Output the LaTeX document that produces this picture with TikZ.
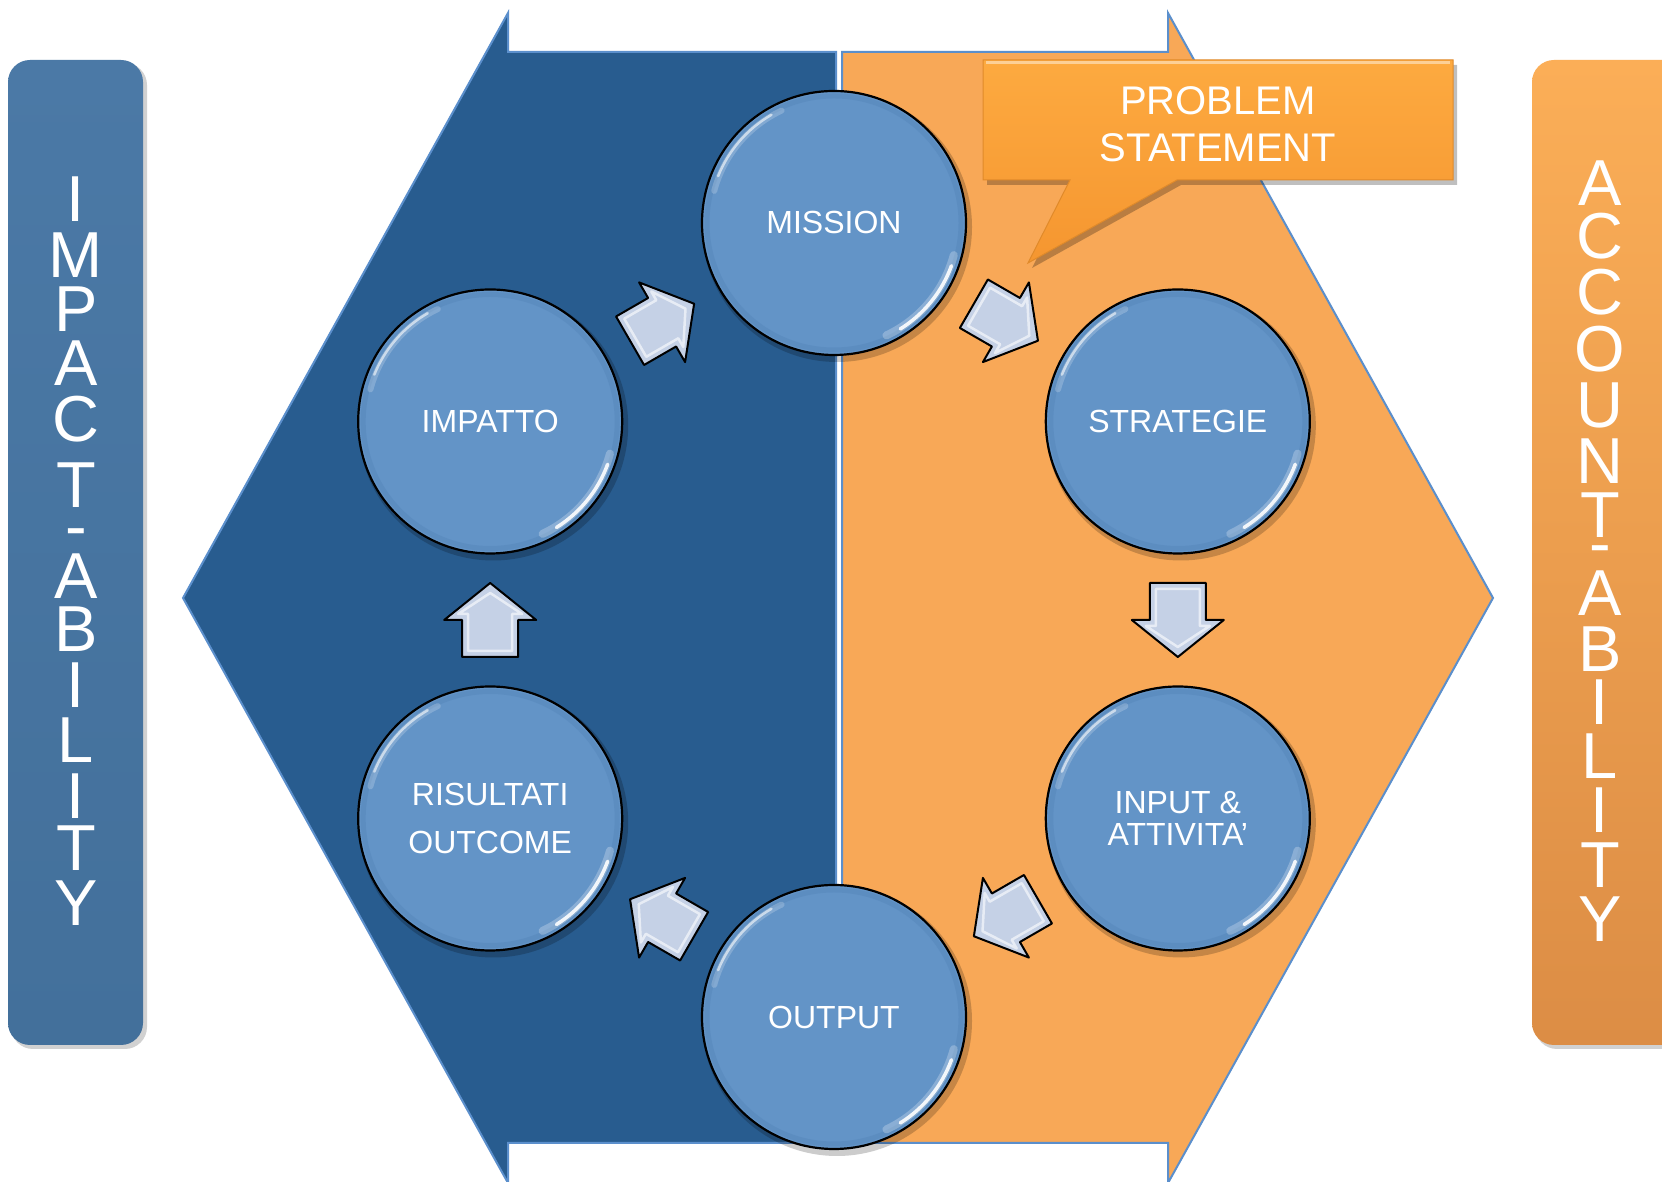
\documentclass[tikz,border=0pt]{standalone}
\usepackage{fontspec}
\setmainfont{Liberation Sans}
\usetikzlibrary{calc}
\definecolor{hexblue}{HTML}{285C8F}
\definecolor{hexorange}{HTML}{F8A857}
\definecolor{hexline}{HTML}{5B8FCC}
\definecolor{circblue}{HTML}{6394C7}
\definecolor{circrim}{HTML}{4A79AF}
\definecolor{arrfill}{HTML}{C5D1E6}
\definecolor{barbluetop}{HTML}{4B79A6}
\definecolor{barbluebot}{HTML}{43709B}
\definecolor{barorangetop}{HTML}{FBAE57}
\definecolor{barorangebot}{HTML}{DC8D45}
\definecolor{calltop}{HTML}{FDAA40}
\definecolor{callbot}{HTML}{F59630}
\definecolor{callline}{HTML}{E08A2A}
\begin{document}
\begin{tikzpicture}[x=1pt,y=1pt,
  stage/.style={circle, minimum size=264pt, inner sep=0pt, fill=circblue,
    draw=black, line width=2.2pt, text=white, align=center,
    font=\fontsize{32}{38}\selectfont},
  widelines/.style={font=\fontsize{32}{48}\selectfont},
  tightlines/.style={font=\fontsize{32}{32}\selectfont},
  sideword/.style={text=white, anchor=north, inner sep=0pt, align=center,
    font=\fontsize{65}{55}\selectfont},
  calltext/.style={text=white, align=center, font=\fontsize{40}{47}\selectfont},
  barrow/.pic={
    \fill[arrfill] (-37,-28) -- (0,-28) -- (0,-46) -- (37,0) -- (0,46) -- (0,28) -- (-37,28) -- cycle;
    \draw[white, line width=2.5pt, opacity=.6, line join=round]
      (-31,-22) -- (6,-22) -- (6,-32) -- (27,0) -- (6,32) -- (6,22) -- (-31,22) -- cycle;
    \draw[black, line width=2pt, line join=round]
      (-37,-28) -- (0,-28) -- (0,-46) -- (37,0) -- (0,46) -- (0,28) -- (-37,28) -- cycle;
  }
]
\useasboundingbox (0,0) rectangle (1662,1182);
\fill[white] (0,0) rectangle (1662,1182);

% side bars
\fill[black, opacity=.18, rounded corners=22pt] (11,133) rectangle (147,1119);
\shade[top color=barbluetop, bottom color=barbluebot, rounded corners=22pt] (8,137) rectangle (143,1122);
\fill[black, opacity=.18, rounded corners=22pt] (1535,133) rectangle (1705,1119);
\shade[top color=barorangetop, bottom color=barorangebot, rounded corners=22pt] (1532,137) rectangle (1700,1122);

% hexagon halves
\fill[hexblue, draw=hexline, line width=2pt, line join=miter]
  (508,1169) -- (508,1130) -- (836,1130) -- (836,39) -- (508,39) -- (508,-1) -- (183,584) -- cycle;
\fill[hexorange, draw=hexline, line width=2pt, line join=miter]
  (1168,1169) -- (1493,584) -- (1168,-1) -- (1168,39) -- (842,39) -- (842,1130) -- (1168,1130) -- cycle;

% callout
\fill[black, opacity=.25] (987,1117) -- (1457,1117) -- (1457,997) -- (1181,997) -- (1032,914) -- (1074,997) -- (987,997) -- cycle;
\shade[top color=calltop, bottom color=callbot, draw=callline, line width=1pt]
  (983,1122) -- (1453,1122) -- (1453,1002) -- (1177,1002) -- (1028,919) -- (1070,1002) -- (983,1002) -- cycle;
\draw[white, opacity=.45, line width=3pt] (986,1119) -- (1450,1119);
\node[calltext] (ps) at (1218,1058) {PROBLEM\\STATEMENT};

% stages
\coordinate (hc) at (834,562);
\foreach \ang in {90,150,30,-150,-30,-90}{
  \fill[black, opacity=.2] ($(hc)+(\ang:397)+(3,-4)$) circle[radius=135];
}
\node[stage] (mis) at ($(hc)+(90:397)$) {MISSION};
\node[stage] (str) at ($(hc)+(30:397)$) {STRATEGIE};
\node[stage, tightlines] (inp) at ($(hc)+(-30:397)$) {INPUT \&\\ATTIVITA’};
\node[stage] (out) at ($(hc)+(-90:397)$) {OUTPUT};
\node[stage, widelines] (ris) at ($(hc)+(-150:397)$) {RISULTATI\\OUTCOME};
\node[stage] (imp) at ($(hc)+(150:397)$) {IMPATTO};
\foreach \c in {mis,str,inp,out,ris,imp}{
  \draw[circrim, line width=5pt, opacity=.25] (\c.center) circle[radius=127];
  \draw[white, line width=8pt, opacity=.25, line cap=round] ($(\c.center)+(-15:124)$) arc[start angle=-15, end angle=-65, radius=124];
  \draw[white, line width=3.5pt, opacity=.9, line cap=round] ($(\c.center)+(-20:125)$) arc[start angle=-20, end angle=-58, radius=125];
  \draw[white, line width=6pt, opacity=.2, line cap=round] ($(\c.center)+(115:124)$) arc[start angle=115, end angle=165, radius=124];
  \draw[white, line width=2.5pt, opacity=.6, line cap=round] ($(\c.center)+(120:125)$) arc[start angle=120, end angle=158, radius=125];
}

% cycle arrows
\pic[rotate=-30] at ($(mis)!.5!(str)$) {barrow};
\pic[rotate=-90] at ($(str)!.5!(inp)$) {barrow};
\pic[rotate=-150] at ($(inp)!.5!(out)$) {barrow};
\pic[rotate=150] at ($(out)!.5!(ris)$) {barrow};
\pic[rotate=90] at ($(ris)!.5!(imp)$) {barrow};
\pic[rotate=30] at ($(imp)!.5!(mis)$) {barrow};

% vertical words
\node[sideword] (leftword) at (76,1005)
  {I\\[1pt]M\\[-1pt]P\\[-1pt]A\\[1pt]C\\[11pt]T\\[-14pt]-\\[-5pt]A\\[-2pt]B\\[1pt]I\\L\\[1pt]I\\[-3pt]T\\Y};
\node[sideword] (rightword) at (1600,1021)
  {A\\[-2pt]C\\[1pt]C\\[2pt]O\\[1pt]U\\[1pt]N\\[-1pt]T\\[-27pt]-\\[-5pt]A\\[1pt]B\\[-2pt]I\\[-1pt]L\\[-1pt]I\\T\\[-1pt]Y};
\end{tikzpicture}
\end{document}
